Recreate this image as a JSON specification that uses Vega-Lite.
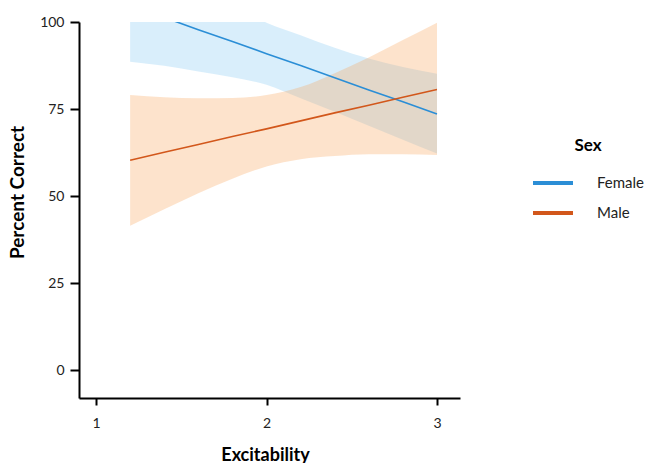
{
  "$schema": "https://vega.github.io/schema/vega-lite/v6.json",
  "width": 381,
  "height": 376,
  "autosize": {"type": "none"},
  "padding": {"left": 79, "top": 22, "right": 189, "bottom": 65},
  "background": "white",
  "config": {
    "font": "Lato",
    "view": {"stroke": null},
    "axis": {"grid": false, "domainColor": "black", "domainWidth": 2, "tickColor": "black", "tickWidth": 2, "labelFont": "Lato", "labelFontSize": 14, "labelColor": "#222", "titleFont": "Lato", "titleFontSize": 18, "titleFontWeight": "bold", "titleColor": "black"}
  },
  "data": {"values": [
    {"Sex": "Female", "x": 1.2, "fit": 104.8, "lo": 88.6, "hi": 121.0},
    {"Sex": "Female", "x": 1.4, "fit": 101.3, "lo": 87.4, "hi": 115.2},
    {"Sex": "Female", "x": 1.6, "fit": 97.8, "lo": 85.8, "hi": 109.8},
    {"Sex": "Female", "x": 1.8, "fit": 94.4, "lo": 84.1, "hi": 104.7},
    {"Sex": "Female", "x": 2.0, "fit": 90.9, "lo": 82.0, "hi": 99.8},
    {"Sex": "Female", "x": 2.2, "fit": 87.5, "lo": 78.1, "hi": 96.2},
    {"Sex": "Female", "x": 2.4, "fit": 84.0, "lo": 74.2, "hi": 92.6},
    {"Sex": "Female", "x": 2.6, "fit": 80.5, "lo": 70.2, "hi": 89.5},
    {"Sex": "Female", "x": 2.8, "fit": 77.1, "lo": 66.2, "hi": 87.1},
    {"Sex": "Female", "x": 3.0, "fit": 73.6, "lo": 62.2, "hi": 85.1},
    {"Sex": "Male", "x": 1.2, "fit": 60.3, "lo": 41.5, "hi": 79.0},
    {"Sex": "Male", "x": 1.4, "fit": 62.6, "lo": 46.2, "hi": 78.4},
    {"Sex": "Male", "x": 1.6, "fit": 64.8, "lo": 50.8, "hi": 78.1},
    {"Sex": "Male", "x": 1.8, "fit": 67.1, "lo": 55.0, "hi": 78.2},
    {"Sex": "Male", "x": 2.0, "fit": 69.3, "lo": 58.5, "hi": 79.0},
    {"Sex": "Male", "x": 2.2, "fit": 71.6, "lo": 60.6, "hi": 81.3},
    {"Sex": "Male", "x": 2.4, "fit": 73.9, "lo": 61.5, "hi": 85.3},
    {"Sex": "Male", "x": 2.6, "fit": 76.1, "lo": 62.0, "hi": 89.8},
    {"Sex": "Male", "x": 2.8, "fit": 78.4, "lo": 62.0, "hi": 94.8},
    {"Sex": "Male", "x": 3.0, "fit": 80.6, "lo": 61.8, "hi": 99.8}
  ]},
  "layer": [
    {
      "mark": {"type": "area", "opacity": 0.3, "clip": true, "interpolate": "monotone"},
      "encoding": {
        "x": {"field": "x", "type": "quantitative", "scale": {"domain": [0.9, 3.135], "nice": false, "zero": false},
              "axis": {"values": [1, 2, 3], "format": "d", "title": "Excitability", "tickSize": 7, "labelPadding": 11, "titlePadding": 16, "titleX": 186, "labelFlush": false}},
        "y": {"field": "lo", "type": "quantitative", "scale": {"domain": [-8, 100], "nice": false, "zero": false},
              "axis": {"values": [0, 25, 50, 75, 100], "title": "Percent Correct", "titleFontSize": 19, "tickSize": 9, "labelPadding": 6, "titleX": -52, "titleY": 170, "titleBaseline": "bottom", "titleAngle": -90, "titleAlign": "center", "labelFlush": false}},
        "y2": {"field": "hi"},
        "fill": {"field": "Sex", "type": "nominal", "scale": {"range": ["#80c6f2", "#f8a255"]}, "legend": null}
      }
    },
    {
      "mark": {"type": "line", "strokeWidth": 1.6, "clip": true},
      "encoding": {
        "x": {"field": "x", "type": "quantitative"},
        "y": {"field": "fit", "type": "quantitative"},
        "color": {"field": "Sex", "type": "nominal", "scale": {"domain": ["Female", "Male"], "range": ["#2b8ed6", "#d2571b"]},
                  "legend": {"title": "Sex", "orient": "none", "legendX": 452, "legendY": 116, "symbolType": "stroke", "symbolSize": 1600, "symbolStrokeWidth": 4, "labelFontSize": 15, "labelFont": "Lato", "labelColor": "#222", "labelOffset": 22, "rowPadding": 0, "titleFontSize": 17, "titleFont": "Lato", "titleFontWeight": "bold", "titleColor": "black", "titleAnchor": "middle", "titlePadding": 6,
                             "encoding": {"symbols": {"update": {"stroke": {"signal": "datum.value == 'Female' ? '#1ea3ee' : '#ef7a35'"}, "strokeWidth": {"value": 4}}}}}}
      }
    }
  ]
}
